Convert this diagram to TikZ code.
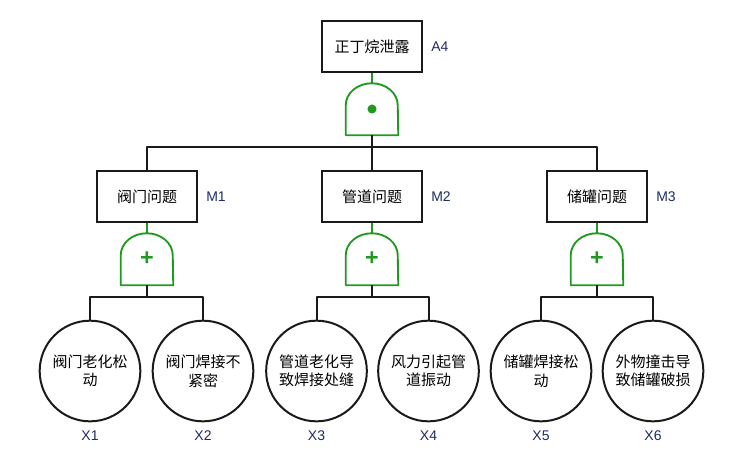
\documentclass[tikz,border=0pt]{standalone}
\usepackage{fontspec}
\setmainfont{Liberation Sans}
\newfontfamily\cjk{Noto Sans CJK SC}
\usepackage{tikz}
\usetikzlibrary{positioning}
\definecolor{gategreen}{HTML}{1F9A1F}
\definecolor{tagblue}{HTML}{1E2B66}
\definecolor{wirecolor}{HTML}{1A1A1A}

\begin{document}
\begin{tikzpicture}[x=0.75pt, y=-0.75pt,
  eventbox/.style={draw=wirecolor, line width=1.5pt, rectangle, minimum width=75pt, minimum height=38.5pt, fill=white, font=\fontsize{11.25pt}{13.9pt}\selectfont\cjk},
  basic/.style={draw=wirecolor, line width=1.5pt, circle, minimum size=75.5pt, inner sep=0pt, align=center, font=\fontsize{11.25pt}{13.9pt}\selectfont\cjk},
  gate/.style={rectangle, minimum width=39pt, minimum height=39pt, inner sep=0pt, text=gategreen, font=\fontsize{17.5pt}{17.5pt}\selectfont\bfseries},
  gateline/.style={draw=gategreen, line width=1.4pt, line join=round},
  stem/.style={draw=gategreen, line width=1.4pt},
  wire/.style={draw=wirecolor, line width=1.5pt, line join=round},
  tag/.style={inner sep=0pt, text=tagblue, font=\fontsize{10.5pt}{12pt}\selectfont}]%
\path[use as bounding box] (0,0) rectangle (730,472);%
% top event
\node[eventbox] (top) at (372, 46.5) {正丁烷泄露};%
\node[tag, right=6pt of top] (topid) {A4};%
\node[gate] (g0) at (372, 109) {};%
\draw[gateline] (g0.south west) -- ++(0pt,22.5pt) arc[start angle=180, end angle=0, x radius=19.5pt, y radius=16.5pt] -- (g0.south east) -- cycle;%
\fill[gategreen] (g0.center) circle (3.4pt);%
\draw[stem] (top.south) -- (g0.north);%
% middle events
\node[eventbox] (m1) at (147, 196.5) {阀门问题};%
\node[eventbox] (m2) at (372, 196.5) {管道问题};%
\node[eventbox] (m3) at (597, 196.5) {储罐问题};%
\node[tag, right=6pt of m1] (m1id) {M1};%
\node[tag, right=6pt of m2] (m2id) {M2};%
\node[tag, right=6pt of m3] (m3id) {M3};%
\coordinate (bus0) at (372, 147);%
\draw[wire] (g0.south) -- (bus0);%
\draw[wire] (bus0) -| (m1.north);%
\draw[wire] (bus0) -- (m2.north);%
\draw[wire] (bus0) -| (m3.north);%
% or gates
\node[gate] (g1) at (147, 259) {+};%
\node[gate] (g2) at (372, 259) {+};%
\node[gate] (g3) at (597, 259) {+};%
\draw[gateline] (g1.south west) -- ++(0pt,22.5pt) arc[start angle=180, end angle=0, x radius=19.5pt, y radius=16.5pt] -- (g1.south east) -- cycle;%
\draw[gateline] (g2.south west) -- ++(0pt,22.5pt) arc[start angle=180, end angle=0, x radius=19.5pt, y radius=16.5pt] -- (g2.south east) -- cycle;%
\draw[gateline] (g3.south west) -- ++(0pt,22.5pt) arc[start angle=180, end angle=0, x radius=19.5pt, y radius=16.5pt] -- (g3.south east) -- cycle;%
\draw[stem] (m1.south) -- (g1.north);%
\draw[stem] (m2.south) -- (g2.north);%
\draw[stem] (m3.south) -- (g3.north);%
% basic events
\node[basic] (x1) at (90, 371) {阀门老化松\\动};%
\node[basic] (x2) at (203, 371) {阀门焊接不\\紧密};%
\node[basic] (x3) at (316.5, 371) {管道老化导\\致焊接处缝};%
\node[basic] (x4) at (428.5, 371) {风力引起管\\道振动};%
\node[basic] (x5) at (541, 371) {储罐焊接松\\动};%
\node[basic] (x6) at (653, 371) {外物撞击导\\致储罐破损};%
\node[tag, below=6pt of x1] (x1id) {X1};%
\node[tag, below=6pt of x2] (x2id) {X2};%
\node[tag, below=6pt of x3] (x3id) {X3};%
\node[tag, below=6pt of x4] (x4id) {X4};%
\node[tag, below=6pt of x5] (x5id) {X5};%
\node[tag, below=6pt of x6] (x6id) {X6};%
\coordinate (bus1) at (147, 297);%
\coordinate (bus2) at (372, 297);%
\coordinate (bus3) at (597, 297);%
\draw[wire] (g1.south) -- (bus1);%
\draw[wire] (g2.south) -- (bus2);%
\draw[wire] (g3.south) -- (bus3);%
\draw[wire] (bus1) -| (x1.north);%
\draw[wire] (bus1) -| (x2.north);%
\draw[wire] (bus2) -| (x3.north);%
\draw[wire] (bus2) -| (x4.north);%
\draw[wire] (bus3) -| (x5.north);%
\draw[wire] (bus3) -| (x6.north);%
\end{tikzpicture}
\end{document}
